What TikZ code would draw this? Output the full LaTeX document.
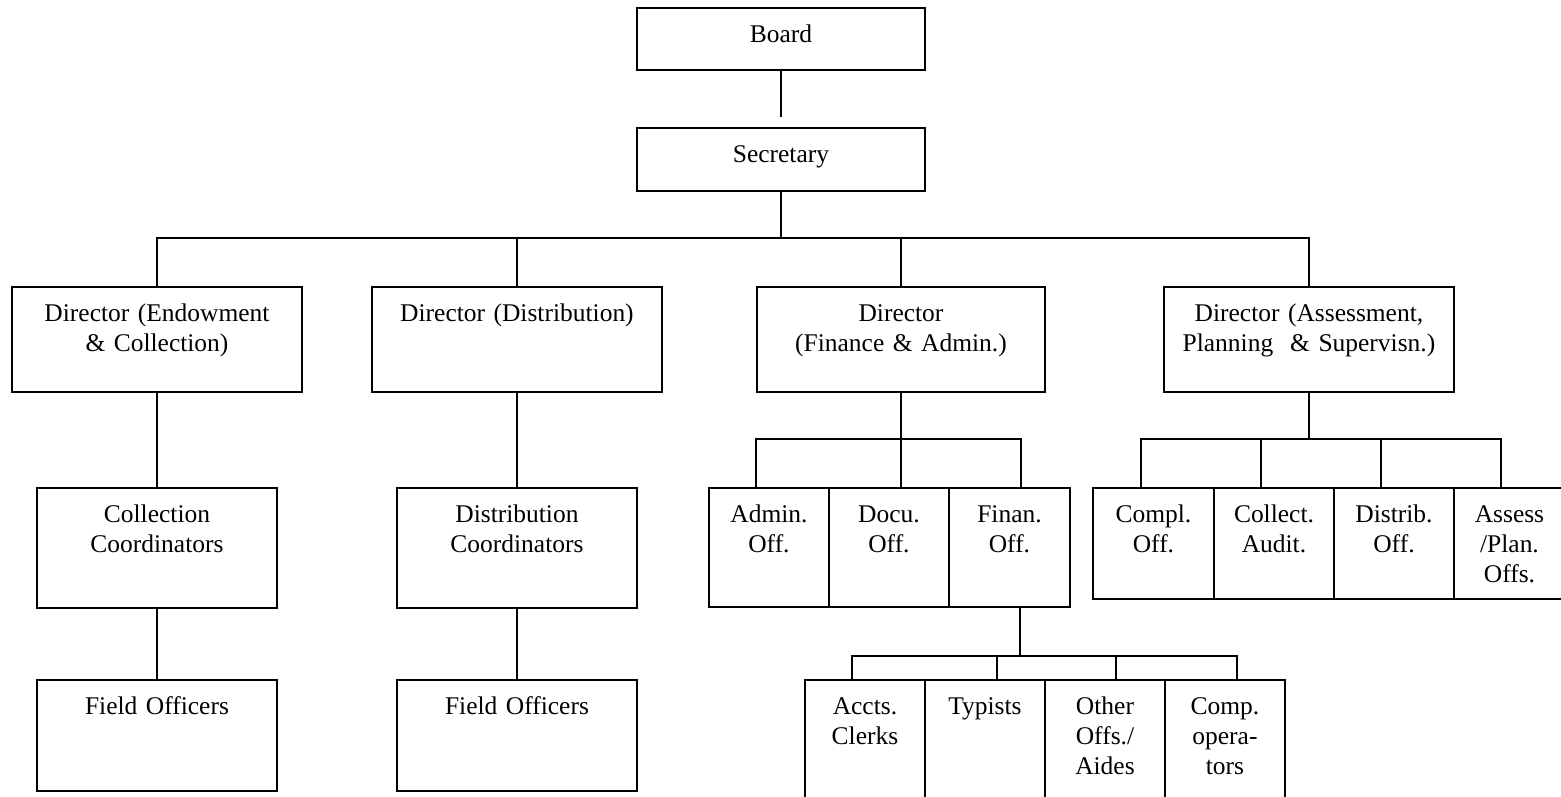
\documentclass[tikz,border=0pt]{standalone}
\usepackage{fontspec}
\setmainfont{Liberation Serif}
\newlength\px
\setlength\px{0.02cm}

\begin{document}
\begin{tikzpicture}[
  x=0.02cm,y=-0.02cm,
  line/.style={draw=black,line width=1.1pt},
  box/.style 2 args={draw=black,line width=1.1pt,inner sep=0pt,anchor=north west,
    align=center,text width=#1\px,text height=35\px,text depth=#2\px,
    font=\fontsize{14.5}{16.8}\selectfont},
]
\useasboundingbox (0,0) rectangle (1561,797);
% top of the chart
\node[box={288}{27}] (brd) at (636,7) {Board};
\node[box={288}{28}] (sec) at (636,127) {Secretary};
% directors
\node[box={290}{70}] (d1) at (11,286) {Director (Endowment\\ \& Collection)};
\node[box={290}{70}] (d2) at (371,286) {Director (Distribution)};
\node[box={288}{70}] (d3) at (756,286) {Director\\ (Finance \& Admin.)};
\node[box={290}{70}] (d4) at (1163,286) {Director (Assessment,\\ Planning\ \ \& Supervisn.)};
% collection and distribution
\node[box={240}{85}] (cc1) at (36,487) {Collection\\ Coordinators};
\node[box={240}{76}] (fo1) at (36,679) {Field Officers};
\node[box={240}{85}] (cc2) at (396,487) {Distribution\\ Coordinators};
\node[box={240}{76}] (fo2) at (396,679) {Field Officers};
% finance and admin
\node[box={120}{84}] (adm) at (708,487) {Admin.\\ Off.};
\node[box={120}{84}] (doc) at (828,487) {Docu.\\ Off.};
\node[box={121}{84}] (fin) at (948,487) {Finan.\\ Off.};
\node[box={120}{90}] (acc) at (804,679) {Accts.\\ Clerks};
\node[box={120}{90}] (typ) at (924,679) {Typists};
\node[box={120}{90}] (oth) at (1044,679) {Other\\ Offs./\\ Aides};
\node[box={120}{90}] (cmp) at (1164,679) {Comp.\\ opera-\\ tors};
% assessment and planning
\node[box={121}{76}] (cpl) at (1092,487) {Compl.\\ Off.};
\node[box={120}{76}] (col) at (1213,487) {Collect.\\ Audit.};
\node[box={120}{76}] (dst) at (1333,487) {Distrib.\\ Off.};
\node[box={111}{76}] (asp) at (1453,487) {Assess\\ /Plan.\\ Offs.};
% bus points
\coordinate (hub) at (780,238);
\coordinate (fa) at (756,439);
\coordinate (ff) at (1021,439);
\coordinate (pa) at (1141,439);
\coordinate (pb) at (1261,439);
\coordinate (pc) at (1381,439);
\coordinate (pd) at (1501,439);
\coordinate (fs) at (1020,656);
\coordinate (sa) at (852,656);
\coordinate (sb) at (997,656);
\coordinate (sc) at (1116,656);
\coordinate (sd) at (1237,656);
% connectors
\draw[line,shorten >=10\px] (brd.south) -- (brd.south |- sec.north);
\draw[line] (sec.south) -- (sec.south |- hub);
\draw[line] (d1.north) |- (hub) -| (d4.north);
\draw[line] (d2.north) -- (d2.north |- hub);
\draw[line] (d3.north) -- (d3.north |- hub);
\draw[line] (d1.south) -- (d1.south |- cc1.north);
\draw[line] (cc1) -- (fo1);
\draw[line] (d2.south) -- (d2.south |- cc2.north);
\draw[line] (cc2) -- (fo2);
\draw[line] (d3.south) -- (d3.south |- doc.north);
\draw[line] (fa |- adm.north) |- (ff) -- (ff |- fin.north);
\draw[line] (d4.south) -- (d4.south |- pa);
\draw[line] (pa |- cpl.north) |- (pd) -- (pd |- asp.north);
\draw[line] (pb) -- (pb |- col.north);
\draw[line] (pc) -- (pc |- dst.north);
\draw[line] (fs |- fin.south) -- (fs);
\draw[line] (sa |- acc.north) |- (sd) -- (sd |- cmp.north);
\draw[line] (sb) -- (sb |- typ.north);
\draw[line] (sc) -- (sc |- oth.north);
\end{tikzpicture}
\end{document}
